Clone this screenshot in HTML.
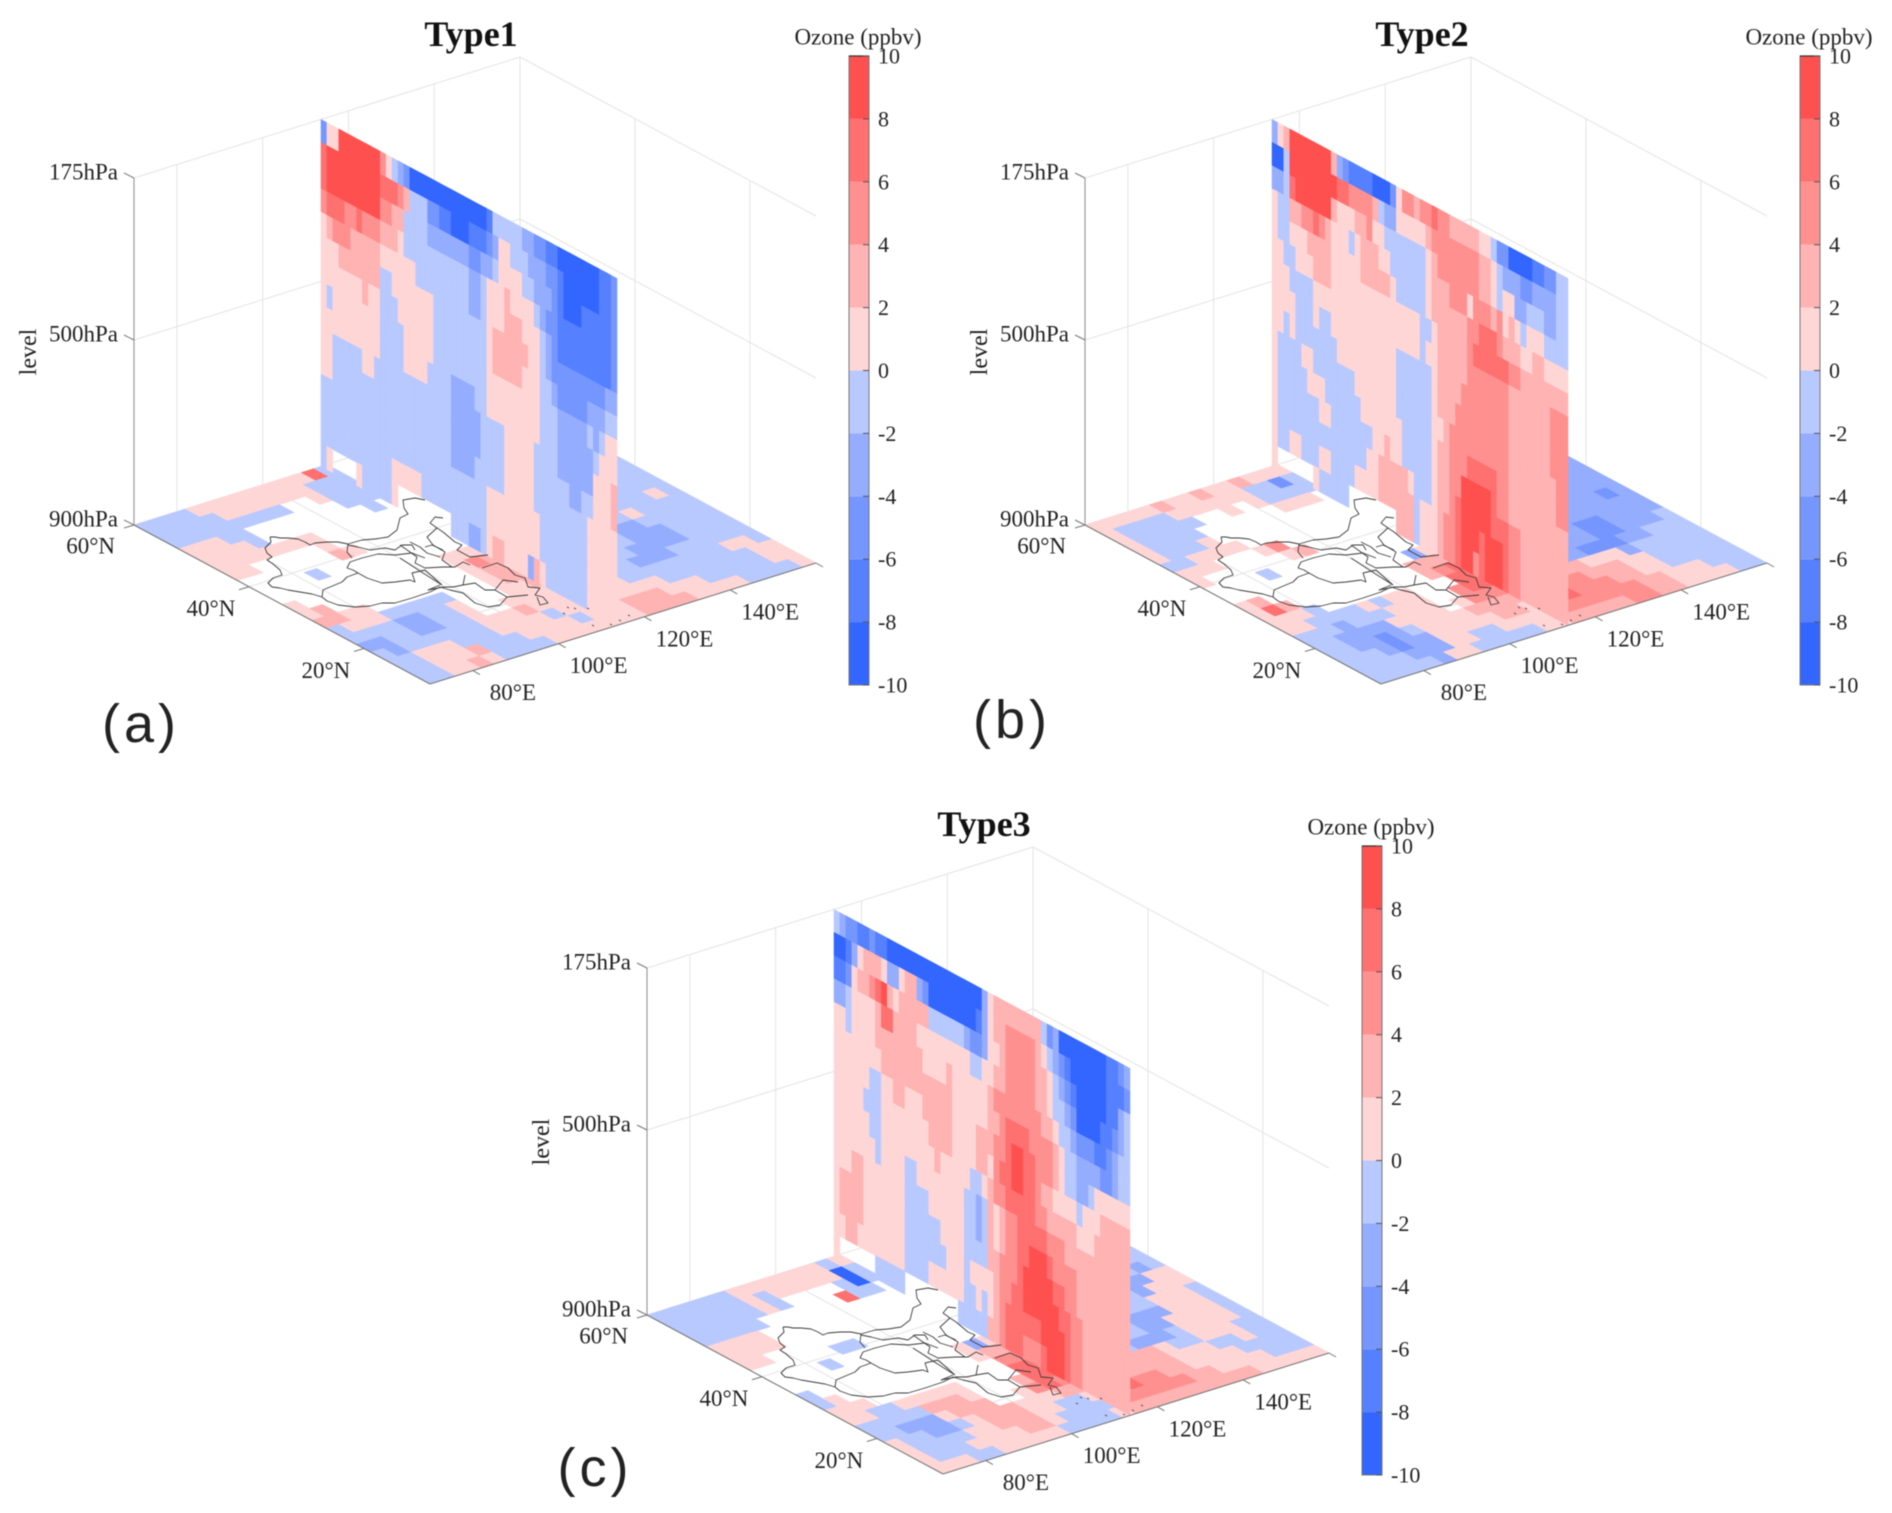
<!DOCTYPE html>
<html lang="en">
<head>
<meta charset="utf-8">
<title>Ozone anomaly cross-sections by type</title>
<style>
html,body{margin:0;padding:0;background:#fff;}
#chart{display:block;width:1892px;height:1513px;font-family:"Liberation Serif",serif;filter:blur(0.5px);}
</style>
</head>
<body>
<svg id="chart" xmlns="http://www.w3.org/2000/svg" width="1892" height="1513" viewBox="0 0 1892 1513"></svg>
<script>
// ---------- chart data ----------
const levelTicks = [175, 500, 900];
const latTicks = [60, 40, 20];
const lonTicks = [80, 100, 120, 140];
const colorbarTicks = [10, 8, 6, 4, 2, 0, -2, -4, -6, -8, -10];
const pressureEdges = [175, 221, 268, 314, 361, 407, 453, 500, 550, 600, 650, 700, 750, 800, 850, 900];
const palette = ['#3366ff', '#5580ff', '#7596ff', '#95adff', '#b8c9ff', '#ffd6d6', '#ffb3b3', '#ff9090', '#ff7070', '#ff5050'];

// Wall values: 15 pressure rows (top to bottom), 50 latitude columns (60N to south). 0 = no data.
const wallType1 = [
[-5,1,1,9,9,9,9,9,9,9,5,1,-1,-3,-5,-9,-9,-9,-9,-9,-9,-9,-9,-9,-9,-9,-9,-9,-7,-1,-1,-1,-1,-1,-3,-3,-5,-5,-7,-7,-9,-9,-9,-9,-9,-9,-9,-7,-7,-5],
[7,9,9,9,9,9,9,9,9,9,7,7,7,5,3,-1,-1,-1,-5,-5,-7,-7,-9,-9,-9,-7,-7,-7,-5,-3,1,1,-1,-1,-1,-3,-3,-3,-5,-5,-7,-9,-9,-9,-9,-9,-9,-7,-7,-5],
[7,9,9,9,9,9,9,9,9,9,5,5,3,3,-1,-1,-1,-1,-3,-3,-3,-3,-3,-3,-3,-5,-5,-3,-3,-1,1,1,1,1,-1,-1,-3,-3,-3,-5,-7,-9,-9,-9,-7,-7,-7,-7,-7,-5],
[5,7,7,7,5,5,7,5,5,5,3,3,3,1,-1,-1,-1,-1,-1,-1,-1,-1,-1,-1,-1,-3,-3,-1,1,1,1,3,1,1,1,1,-1,-3,-5,-5,-7,-7,-7,-7,-7,-7,-7,-7,-7,-5],
[1,3,5,5,5,3,3,3,3,3,1,1,1,1,1,1,-1,-1,-1,-1,-1,-1,-1,-1,-1,-3,-3,-1,1,1,1,3,3,3,1,1,1,-1,-3,-5,-7,-7,-7,-7,-7,-7,-7,-7,-7,-5],
[1,1,1,3,3,3,3,3,3,3,-1,-1,1,1,1,1,1,1,1,-1,-1,-1,-1,-1,-1,-1,-1,-1,1,3,3,3,3,3,3,1,1,-1,-3,-5,-5,-5,-5,-5,-5,-5,-5,-5,-3,-3],
[1,1,1,1,1,1,1,3,1,1,-1,-1,-1,1,1,1,1,1,1,-1,-1,-1,-1,-1,-1,-1,-1,-1,1,3,3,3,3,3,1,1,1,-1,-1,-3,-5,-5,-5,-5,-5,-3,-3,-3,-1,-1],
[1,-1,1,1,1,1,1,1,1,1,-1,-1,-1,-1,1,1,1,1,1,-1,-1,-1,-1,-1,-1,-1,-1,-1,1,1,1,1,1,1,1,1,1,-1,-1,-1,-3,-3,-3,-3,-3,-1,-3,-1,1,1],
[1,1,1,1,1,1,1,1,1,1,-1,-1,-1,-1,1,1,1,1,-1,-1,-1,-1,-3,-3,-3,-3,-1,-1,1,1,1,1,1,1,1,1,1,-1,-1,-1,-3,-3,-3,-3,-3,-3,-1,1,1,1],
[1,1,-1,-1,-1,-1,-1,1,1,-1,-1,-1,-1,-1,-1,-1,-1,-1,-1,-1,-1,-1,-3,-3,-3,-3,-3,-1,-1,-1,-1,1,1,1,1,1,-1,-1,-1,-1,-3,-3,-3,-3,-3,-3,1,1,1,3],
[1,1,-1,-1,-1,-1,-1,-1,-1,-1,-1,-1,-1,-1,-1,-1,-1,-1,-1,-1,-1,-1,-3,-3,-3,-3,-3,-1,-1,-1,-1,1,1,1,1,1,-1,-1,-1,-1,-1,-1,-3,-3,-1,-1,1,1,1,3],
[-1,-1,-1,-1,-1,-1,-1,-1,-1,-1,-1,-1,-1,-1,-1,-1,-1,-1,-1,-1,-1,-1,-3,-3,-3,-3,-1,-1,-1,-1,-1,1,1,1,1,1,-1,-1,-1,-1,-1,-1,-1,-1,-1,1,1,1,1,1],
[-1,-1,-1,-1,-1,-1,-1,-1,-1,-1,-1,-1,-1,-1,-1,-1,-1,-1,-1,-1,-1,-1,-1,-1,-1,-1,-1,-1,1,1,1,1,1,1,1,1,1,-1,-1,-1,-1,-1,-1,-1,-1,1,1,1,1,1],
[-1,-1,-1,-1,-1,-1,-1,-1,-1,-1,-1,-1,1,1,1,1,1,-1,-1,-1,-1,-1,-1,-1,-1,-1,-1,-1,1,1,1,1,1,1,1,1,1,-1,-1,-1,-1,-1,-1,-1,-1,1,1,1,1,1],
[-1,1,0,0,0,0,1,-1,-1,-1,-1,-1,1,0,0,0,0,0,0,0,0,0,-1,-1,-1,-3,-3,-1,1,3,3,1,1,1,1,-3,3,1,-1,-1,-1,-1,-1,-1,-1,1,1,1,1,1]
];
const wallType2 = [
[-3,1,3,9,9,9,9,9,9,9,3,-3,-5,-7,-7,-7,-7,-9,-9,-9,-5,1,5,5,3,5,5,7,5,5,3,3,3,3,3,1,1,-1,-5,-5,-9,-9,-9,-9,-7,-7,-5,-5,-1,-1],
[-9,-9,-1,9,9,9,9,9,9,9,9,7,7,5,5,5,5,3,-1,-3,-3,1,1,1,1,1,3,5,5,5,5,5,5,5,5,3,3,1,-1,-3,-3,-3,-5,-5,-3,-3,-3,-3,-1,-1],
[-3,-3,-1,7,9,9,9,9,9,9,3,1,1,1,3,3,5,1,1,-1,-1,-1,-1,-1,-1,-1,1,3,5,5,5,5,5,5,5,3,3,1,-1,1,1,-3,-3,-1,-1,-1,-3,-3,-1,-1],
[1,-1,-1,3,3,5,5,7,5,3,1,1,1,-1,1,3,3,3,1,1,-1,-1,-1,-1,-1,-1,1,3,3,3,5,5,5,1,5,5,5,3,5,1,3,1,-1,1,1,1,-1,-1,-1,-1],
[1,-1,-1,1,1,1,3,3,3,3,1,1,1,1,1,3,3,3,3,3,1,-1,-1,-1,-1,-1,1,3,3,3,3,3,3,5,5,7,7,7,5,3,3,3,1,1,3,3,1,1,1,1],
[1,1,-1,-1,1,1,1,3,3,3,1,1,1,1,1,1,1,1,1,1,1,1,1,1,1,-1,-1,1,3,3,3,3,3,5,7,7,7,7,7,7,5,5,3,3,3,3,3,3,3,3],
[1,1,1,-1,-1,-1,-1,1,1,1,1,1,1,1,1,1,1,1,1,1,1,1,1,1,1,-1,1,1,3,3,3,3,3,5,5,5,5,5,5,5,3,3,3,3,3,3,3,5,5,5],
[1,1,1,1,-1,-1,-1,1,-1,-1,1,1,1,1,1,1,1,1,1,1,1,-1,-1,-1,-1,-1,-1,1,3,3,3,3,5,5,5,5,5,5,5,5,3,3,3,3,3,3,3,5,5,5],
[1,1,-1,1,-1,-1,-1,-1,-1,-1,-1,1,1,1,1,1,1,1,1,1,1,-1,-1,-1,-1,-1,-1,1,3,3,3,5,5,5,5,5,5,5,5,5,3,3,3,3,3,3,3,5,5,5],
[1,-1,-1,-1,-1,1,1,-1,-1,-1,-1,-1,-1,-1,1,1,1,1,1,1,1,-1,-1,-1,-1,-1,-1,1,1,3,5,5,5,5,5,5,5,5,5,5,3,3,3,3,3,3,3,3,5,5],
[1,-1,-1,-1,-1,-1,1,1,1,-1,-1,-1,-1,-1,-1,1,1,1,1,1,1,1,-1,-1,-1,-1,-1,1,3,3,5,5,5,7,7,7,7,7,5,5,3,3,3,3,3,3,3,3,5,5],
[1,-1,-1,-1,-1,-1,-1,-1,1,1,-1,-1,-1,-1,-1,-1,-1,1,1,3,1,1,-1,-1,-1,-1,-1,1,3,3,5,5,9,9,9,9,9,7,5,5,3,3,3,3,3,3,3,3,3,3],
[1,-1,-1,-1,-1,-1,-1,-1,-1,-1,-1,-1,-1,-1,-1,-1,1,1,3,3,3,3,3,1,-1,-1,-1,1,3,3,5,7,9,9,9,9,9,7,7,7,5,5,3,3,3,3,3,3,3,3],
[1,-1,-1,1,1,-1,-1,-1,1,1,-1,-1,-1,-1,1,1,1,1,3,3,3,3,3,3,-1,1,1,1,3,5,5,7,9,9,9,7,9,9,9,7,5,5,3,3,3,3,3,3,3,3],
[1,0,0,0,0,0,0,1,-1,-1,-1,-1,-1,0,0,0,0,0,0,0,0,3,3,3,-1,1,1,1,3,5,5,7,9,9,5,7,9,9,9,7,5,5,3,3,3,3,3,3,3,3]
];
const wallType3 = [
[-1,-3,-5,-5,-7,-7,-5,-7,-7,-9,-9,-9,-9,-9,-9,-9,-9,-9,-9,-9,-9,-9,-9,-9,-9,-3,1,3,3,3,3,3,3,3,3,-1,-5,-3,-9,-9,-9,-9,-9,-9,-9,-9,-7,-7,-5,-3],
[-9,-9,-7,-3,1,3,3,3,1,-3,-3,1,3,3,-3,-5,-9,-9,-9,-9,-9,-9,-9,-9,-7,-3,1,3,3,5,5,5,5,5,3,1,-1,-3,-5,-7,-9,-9,-9,-9,-9,-9,-7,-7,-7,-5],
[-7,-7,-5,1,3,3,5,7,9,3,1,3,3,3,3,3,-1,-1,-1,-1,-1,-1,-3,-5,-5,-3,1,1,3,5,5,5,5,5,3,3,1,-1,-3,-5,-7,-9,-9,-9,-9,-9,-7,-7,-3,-1],
[-3,-3,-1,1,1,1,1,3,7,7,3,3,3,3,1,1,1,1,1,1,1,1,1,-1,-1,1,1,3,3,5,5,5,5,5,3,3,1,-1,-1,-3,-5,-9,-9,-9,-9,-7,-7,-5,-3,-1],
[1,1,-1,1,1,1,1,3,3,3,3,3,3,3,3,1,1,1,1,3,1,1,1,1,1,1,3,5,5,5,5,5,5,5,5,3,3,1,-1,-1,-3,-5,-5,-5,-7,-7,-5,-3,-1,-1],
[1,1,1,1,1,1,1,1,3,3,3,3,3,3,3,3,3,3,3,3,1,1,1,1,1,1,3,3,5,7,7,7,7,5,5,5,5,3,1,-1,-1,-3,-3,-3,-3,-5,-5,-3,-1,-1],
[1,1,1,1,1,1,-1,-1,1,1,3,3,1,1,1,3,3,3,3,3,1,1,1,1,3,3,3,5,5,7,9,9,7,7,5,5,5,3,1,-1,-1,-3,-3,-1,1,1,1,1,1,1],
[1,1,1,1,1,-1,-1,-1,1,1,1,1,1,1,1,1,3,3,3,3,1,1,1,1,3,3,1,5,7,7,9,9,7,7,5,3,3,1,1,1,1,-1,1,1,1,3,3,3,3,3],
[1,1,1,1,1,1,-1,-1,1,1,1,1,1,1,1,1,1,3,1,1,1,1,1,-1,-1,1,3,5,5,7,7,7,7,7,5,5,3,3,3,3,3,1,1,1,3,3,3,3,3,3],
[1,1,1,1,1,1,1,-1,1,1,1,1,-1,-1,1,1,1,1,1,1,1,1,-1,-1,-3,-1,3,1,3,5,5,7,7,7,7,7,5,5,5,3,3,3,3,3,3,3,3,3,3,3],
[1,1,1,3,3,1,1,1,1,1,1,1,-1,-1,-1,-1,1,1,1,1,1,1,-1,-1,-3,-1,3,1,3,5,5,7,7,9,9,9,7,5,5,5,5,3,3,3,3,3,3,3,3,3],
[1,3,3,3,3,1,1,1,1,1,1,1,-1,-1,-1,-1,-1,-1,1,1,1,1,-1,-1,-1,-1,3,3,5,5,5,7,9,9,9,9,9,7,7,5,5,3,3,3,3,3,3,3,3,3],
[1,3,3,3,3,1,1,1,1,1,1,1,-1,-1,-1,-1,-1,-1,-1,1,1,1,-1,1,1,1,1,3,5,5,7,7,9,9,9,9,9,9,7,7,5,5,3,3,3,3,3,3,3,3],
[1,1,3,3,1,1,1,1,1,1,1,1,-1,-1,-1,-1,1,1,1,1,1,1,-1,-1,1,-1,1,3,5,7,7,7,7,7,7,9,9,9,9,7,5,5,3,3,3,3,3,3,3,3],
[1,0,0,0,0,0,0,-1,-1,-1,-1,-1,0,0,0,0,0,0,0,0,0,-1,-1,-1,-1,-1,3,3,5,7,7,7,5,5,5,7,9,9,9,7,5,5,3,3,3,3,3,3,3,3]
];

// Floor values: 20 latitude rows (60N to south), 30 longitude columns (70E to 160E). 0 = no data.
const floorType1 = [
[-1,-1,-1,-1,1,1,1,1,1,1,1,1,1,7,-1,0,0,0,0,0,0,-1,-1,-1,-1,-1,-1,-1,-1,-1],
[-1,-1,-1,-1,-1,1,1,1,1,1,1,1,-1,-1,-1,0,0,0,0,0,0,-1,-1,-1,-1,-1,-1,-1,-1,-1],
[-1,-1,-1,-1,-1,-1,-1,-1,-1,0,0,1,-1,-1,-1,0,0,0,0,0,0,-1,-1,-1,-1,-1,-1,-1,-1,-1],
[1,1,1,-1,-1,0,0,0,0,0,0,0,-1,-1,-1,0,0,0,0,0,0,-1,-1,-1,-1,-1,-1,-1,-1,-1],
[1,1,1,1,-1,0,0,0,0,0,0,0,0,-1,0,0,0,0,0,0,0,-1,-1,-1,-1,-1,-1,-1,-1,-1],
[1,1,1,1,1,1,1,1,0,0,0,0,0,0,0,0,0,0,0,0,0,-1,-1,-1,-1,-1,-1,-1,-1,-1],
[1,1,0,0,0,0,0,1,0,0,0,0,0,0,0,0,0,0,0,0,0,-1,-1,-1,-1,-1,-1,-1,-1,-1],
[0,0,0,0,0,0,0,3,1,0,0,0,0,0,0,0,0,0,0,0,0,-1,-1,-1,-1,-1,-1,-1,-1,-1],
[0,0,0,0,-1,0,0,0,0,0,0,0,0,0,0,0,0,0,0,0,0,-1,-1,-1,-1,-1,-1,-1,-1,-1],
[0,0,0,0,0,0,0,0,0,0,0,0,0,0,0,0,0,0,0,0,0,-1,-1,-1,-1,-1,-1,-1,-1,-1],
[1,0,0,0,0,0,0,0,0,0,0,0,1,1,1,-1,-1,-1,-1,-1,-1,-1,-1,-1,-1,-1,-1,-1,1,-1],
[1,3,0,0,0,0,0,0,0,0,0,0,1,5,3,-1,-1,-1,-1,-1,-1,-1,-1,-1,-1,1,-1,-1,-1,-1],
[3,3,1,1,0,0,0,0,0,0,0,0,1,3,3,-1,-1,-1,-1,-1,-1,-1,-1,-3,-3,-1,-1,-1,-1,-1],
[-1,1,1,1,-1,-1,-1,-1,-1,0,0,0,1,3,3,-1,-1,-1,-1,-1,-1,-1,-1,-3,-3,-3,-1,-1,-1,-1],
[-1,-1,-1,-1,-3,-3,-1,-1,1,0,0,0,1,1,3,-1,-1,-1,-1,-1,-1,-1,-3,-3,-3,-3,-1,-1,-1,-1],
[-3,-3,-1,-1,-3,-3,-1,-1,1,0,0,1,1,1,1,-1,-1,-1,-1,-1,-1,-3,-3,-3,-1,-1,-1,-1,-1,-1],
[-1,-3,-1,-1,-1,-1,-1,-1,1,1,1,3,1,1,1,1,1,1,1,-1,-1,-1,-1,-1,-1,-1,-1,1,1,-1],
[-1,-1,1,1,1,-1,-1,-1,1,1,1,1,-1,1,1,1,1,1,1,1,1,-1,-1,-1,-1,-1,-1,-1,1,1],
[-1,-1,1,1,1,3,-1,-1,-1,1,1,1,1,-1,1,1,1,3,3,3,1,1,1,-1,-1,-1,-1,-1,1,1],
[-1,-1,1,1,3,1,-1,-1,-1,-1,1,1,1,1,1,1,1,3,3,3,3,1,1,1,1,-1,-1,-1,-1,1]
];
const floorType2 = [
[1,1,1,1,1,3,1,1,3,1,1,3,1,1,1,0,0,0,0,0,0,-3,-3,-3,-3,-3,-3,-3,-3,-3],
[1,-1,-1,-1,-1,1,1,1,1,1,1,-1,-1,-5,-1,0,0,0,0,0,0,-3,-3,-3,-3,-3,-3,-3,-3,-3],
[1,-1,-1,-1,-1,-1,0,0,1,0,1,-1,-1,-1,-1,0,0,0,0,0,0,-3,-3,-3,-3,-3,-3,-3,-3,-3],
[1,-1,-1,-1,-1,0,0,0,0,0,0,1,1,1,0,0,0,0,0,0,0,-3,-3,-3,-3,-3,-3,-3,-3,-3],
[1,-1,-1,-1,1,0,0,0,0,0,0,0,0,0,0,0,0,0,0,0,0,-3,-3,-3,-3,-3,-3,-3,-3,-3],
[-1,-1,1,1,1,1,0,0,0,0,0,0,0,0,0,0,0,0,0,0,0,-3,-3,-3,-3,-3,-3,-3,-3,-3],
[1,1,1,0,0,0,1,5,0,0,0,0,0,0,0,0,0,0,0,0,0,-3,-3,-3,-3,-3,-3,-3,-3,-3],
[1,0,0,0,0,0,0,1,3,0,0,0,0,0,0,0,0,0,0,0,0,-3,-3,-3,-3,-3,-3,-3,-3,-3],
[0,0,0,0,-1,0,0,0,0,0,0,0,0,0,0,0,0,0,0,0,0,-3,-3,-3,-3,-3,-3,-3,-3,-3],
[0,0,0,0,0,0,0,0,0,0,0,0,0,0,0,0,0,0,0,0,0,-3,-3,-3,-3,-3,-3,-3,-3,-3],
[1,3,0,0,0,0,0,0,0,0,0,0,0,-3,1,-3,-3,-3,-3,-3,-3,-3,-3,-3,-3,-3,-3,-3,-5,-3],
[1,7,3,0,0,0,0,0,0,0,0,0,3,3,3,-3,-3,-3,-3,-3,-3,-3,-3,-3,-3,-3,-3,-3,-3,-3],
[1,1,1,-1,0,0,0,0,0,0,0,0,3,5,7,-3,-3,-3,-3,-3,-3,-3,-3,-3,-5,-5,-3,-3,-3,-3],
[1,1,-1,-1,-1,-1,1,-1,1,1,0,0,0,7,7,-3,-3,-3,-3,-3,-3,-3,-3,-3,-5,-5,-3,-3,-3,-1],
[-1,-1,-1,-3,-1,-1,-1,1,1,1,0,0,5,7,7,-3,-3,-3,-3,-3,-3,-3,-5,-5,-5,-3,-3,-1,-1,-1],
[-1,-1,-3,-3,-3,-3,1,1,1,1,0,1,5,5,5,3,3,3,3,3,3,1,1,1,-3,-1,-1,-1,-1,-1],
[-1,-1,-3,-3,-5,-3,-1,1,1,1,1,3,3,3,3,5,5,5,5,5,3,3,3,1,1,-1,-1,-1,-1,-1],
[-1,-1,-1,-3,-5,-3,-3,1,1,1,1,1,3,3,1,5,5,7,5,5,5,3,3,1,1,-1,-1,-1,-1,-1],
[-1,-1,-1,-1,-3,-3,-3,1,1,-1,-1,1,1,1,1,5,5,5,5,5,5,5,3,3,1,1,1,-1,-1,-1],
[-1,-1,-1,-1,-1,-3,1,1,-1,-1,-1,-1,-1,1,1,3,3,3,3,3,5,5,3,3,1,1,1,1,-1,-1]
];
const floorType3 = [
[-1,-1,-1,-1,-1,-1,1,1,1,1,1,1,1,-1,1,0,0,0,0,0,0,-1,-1,-1,-1,-1,-1,-1,-1,-1],
[-1,-1,-1,-1,-1,-1,1,-1,1,1,1,1,1,-9,-1,0,0,0,0,0,0,-1,-1,-1,-1,-1,-1,-1,-1,-1],
[-1,-1,-1,-1,-1,-1,1,-1,0,0,0,0,-1,-9,-1,0,0,0,0,0,0,-1,-1,-1,-1,-1,-1,-1,-1,-1],
[-1,-1,-1,-1,-1,0,0,0,0,0,0,7,-1,-1,0,0,0,0,0,0,0,-1,-1,-1,-1,-1,-1,-1,-1,-1],
[1,1,1,1,0,0,0,0,0,0,0,0,0,0,0,0,0,0,0,0,0,-1,-1,-1,-1,-1,-1,-1,-1,-1],
[1,1,1,1,0,0,0,0,0,0,0,0,0,0,0,0,0,0,0,0,0,-1,-1,-1,-1,-1,-1,-1,-1,-1],
[1,1,0,0,0,0,0,0,0,0,0,0,0,0,0,0,0,0,0,0,0,-1,-1,-1,-1,-1,-1,-1,-1,-1],
[0,0,0,0,0,0,-1,-1,0,0,0,0,0,0,0,0,0,0,0,0,0,-1,-1,-1,-1,-1,-1,-1,-1,-1],
[0,0,0,0,-1,0,0,0,0,0,0,0,0,0,0,0,0,0,0,0,0,-1,-1,-1,-1,-1,-1,-1,-3,-1],
[0,0,0,0,0,0,0,0,0,0,0,0,0,0,0,0,0,0,0,0,0,-1,-1,-1,-1,-1,-3,-3,1,1],
[-1,0,0,0,0,0,0,0,0,0,0,0,1,-3,1,-1,-1,-1,-1,-1,-1,-1,-1,-1,-1,-1,-3,1,1,1],
[-1,1,0,0,0,0,0,0,0,0,0,0,1,3,3,-1,-1,-1,-1,-1,-1,-1,-1,-1,-1,-1,1,1,1,-1],
[1,1,1,0,0,0,0,0,0,0,0,0,0,5,5,-1,-1,-1,-1,-1,-1,-1,-1,-3,-3,-3,1,1,1,-1],
[1,1,-1,-1,1,1,1,1,1,0,0,0,0,7,7,-1,-1,-1,-1,-1,-1,-1,-1,-3,-3,1,1,1,1,-1],
[-1,-1,-1,-1,-1,3,3,3,1,0,0,0,3,7,7,-1,-1,-1,-1,-1,-1,-3,-3,-3,-1,1,1,1,1,-1],
[-1,-1,-3,-3,-3,1,3,3,3,0,0,1,5,7,5,3,3,3,3,3,3,3,1,-1,-1,1,1,1,-1,-1],
[1,-1,-1,-3,-3,-1,1,3,3,3,1,1,1,3,3,3,3,3,3,3,3,3,1,1,1,-1,-1,1,-1,-1],
[1,-1,-1,-1,-1,1,1,3,3,3,1,1,-1,-1,1,3,3,7,5,5,3,3,1,1,1,1,-1,-1,-1,-1],
[1,-1,-1,-1,1,1,1,1,3,3,1,-1,-1,-1,-1,5,5,5,5,5,5,3,3,1,1,1,1,-1,-1,-1],
[1,1,1,-1,-1,1,1,1,1,1,-1,-1,-1,-1,1,3,3,3,3,3,3,3,3,3,3,1,1,1,1,1]
];

// ---------- layout ----------
const NS = 'http://www.w3.org/2000/svg';
const svg = document.getElementById('chart');
const LON0 = 70, LON1 = 160, LAT0 = 60, LATSPAN = 51.5, WALL_LON = 113.6;

function lonToV(lon) { return (lon - LON0) / (LON1 - LON0); }
function latToU(lat) { return (LAT0 - lat) / LATSPAN; }
function pressureToH(p) {
  if (p <= 500) return 185 + (500 - p) * (162 / 325);
  return (900 - p) * (185 / 400);
}
function project(panel, lon, lat, p) {
  const v = lonToV(lon), u = latToU(lat);
  return [panel.ox + 134 + 386 * v + 296 * u, panel.oy + 525 - 121 * v + 159 * u - pressureToH(p)];
}
function colorFor(value) {
  if (value === 0) return null;
  const idx = Math.max(0, Math.min(9, Math.floor((value + 10) / 2)));
  return palette[idx];
}
function mk(tag, attrs, parent) {
  const el = document.createElementNS(NS, tag);
  for (const k in attrs) el.setAttribute(k, attrs[k]);
  (parent || svg).appendChild(el);
  return el;
}
function pts(list) { return list.map(function (q) { return q[0].toFixed(1) + ',' + q[1].toFixed(1); }).join(' '); }

function gridLine(g, a, b, color, width, name) {
  const ln = mk('line', { x1: a[0], y1: a[1], x2: b[0], y2: b[1], stroke: color, 'stroke-width': width }, g);
  
  
  return ln;
}
function label(g, x, y, str, size, anchor, name, extra) {
  const t = mk('text', { x: x, y: y, 'font-size': size, 'text-anchor': anchor, 'dominant-baseline': 'central', fill: '#222' }, g);
  t.textContent = str;
  
  
  if (extra) for (const k in extra) t.setAttribute(k, extra[k]);
  return t;
}

// China province outlines in panel-relative pixels (map decoration, not data)
const outlineShapes = [
  [[270,537],[275,537],[280,538],[288,538],[298,539],[305,542],[310,545],[315,543],[327,542],[338,542],[348,544],[362,540],[375,539],[388,537],[397,530],[400,518],[408,514],[404,508],[403,500],[415,498],[425,500]],
  [[270,537],[271,542],[265,548],[267,553],[272,557],[267,560],[273,564],[280,570],[282,575],[273,578],[268,583],[272,587],[280,588],[288,590],[300,592],[312,594],[322,597],[327,601],[338,605],[355,607],[370,606],[382,603],[395,603],[412,598],[430,592],[440,587],[450,590],[463,593],[475,603],[488,607],[500,605],[507,597]],
  [[322,597],[323,590],[330,587],[342,582],[347,577],[358,573],[367,578],[382,583],[395,582],[410,580],[415,582],[412,573],[425,570],[442,585]],
  [[347,568],[350,562],[362,558],[378,554],[395,555],[412,553],[425,558]],
  [[347,568],[353,570],[358,573]],
  [[348,544],[347,552],[352,558]],
  [[348,545],[358,547],[370,550],[385,548],[395,550],[402,545],[412,545],[415,550]],
  [[443,518],[435,517],[430,523],[437,528],[443,532],[455,542],[462,545],[457,550],[470,557],[488,555]],
  [[437,528],[427,537],[433,545],[445,552],[442,560],[452,567]],
  [[410,542],[420,547],[427,553],[440,557]],
  [[425,547],[432,545],[443,550]],
  [[400,545],[417,557],[415,563],[425,568],[443,567],[455,567],[463,562],[470,565]],
  [[482,568],[497,563],[508,568],[515,575],[525,578],[528,587],[540,588],[535,595],[543,597],[548,603],[540,605],[537,597]],
  [[465,575],[463,585],[475,583],[485,590],[495,590],[503,580],[518,582]],
  [[495,590],[507,597],[528,595]],
  [[440,585],[428,590],[443,587],[453,587],[463,585]],
  [[400,558],[423,573],[442,585]]
];
const islandMarks = [[567,607],[574,608],[587,608],[563,613],[592,625],[619,620],[628,615],[610,624]];

const panels = [
  { key: 'type1', title: 'Type1', tag: '(a)', wall: wallType1, floor: floorType1, ox: 0, oy: 0, tagX: 141, tagY: 724 },
  { key: 'type2', title: 'Type2', tag: '(b)', wall: wallType2, floor: floorType2, ox: 951, oy: 0, tagX: 1012, tagY: 720 },
  { key: 'type3', title: 'Type3', tag: '(c)', wall: wallType3, floor: floorType3, ox: 513, oy: 790, tagX: 595, tagY: 1468 }
];

function drawPanel(panel) {
  const g = mk('g', {});
  
  
  const GRID = '#e4e4e4';
  const P = function (lon, lat, p) { return project(panel, lon, lat, p); };
  const LATEND = LAT0 - LATSPAN;

  // box grid: back-left plane, back-right plane, floor
  lonTicks.forEach(function (lon) {
    gridLine(g, P(lon, LAT0, 900), P(lon, LAT0, 175), GRID, 1, 'grid-line-lon');
    gridLine(g, P(lon, LAT0, 900), P(lon, LATEND, 900), GRID, 1, 'floor-grid-lon');
  });
  latTicks.forEach(function (lat) {
    if (lat === LAT0) return;
    gridLine(g, P(LON1, lat, 900), P(LON1, lat, 175), GRID, 1, 'grid-line-lat');
    gridLine(g, P(LON0, lat, 900), P(LON1, lat, 900), GRID, 1, 'floor-grid-lat');
  });
  levelTicks.forEach(function (p) {
    gridLine(g, P(LON0, LAT0, p), P(LON1, LAT0, p), GRID, 1, 'grid-line-level');
    gridLine(g, P(LON1, LAT0, p), P(LON1, LATEND, p), GRID, 1, 'grid-line-level');
  });
  gridLine(g, P(LON1, LAT0, 900), P(LON1, LAT0, 175), GRID, 1, 'grid-line-back-corner');

  // floor heatmap
  const floorG = mk('g', {}, g);
  
  
  const nRows = panel.floor.length;
  panel.floor.forEach(function (row, r) {
    const nCols = row.length;
    row.forEach(function (val, c) {
      const col = colorFor(val);
      if (!col) return;
      const lonA = LON0 + (LON1 - LON0) * c / nCols, lonB = LON0 + (LON1 - LON0) * (c + 1) / nCols;
      const latA = LAT0 - LATSPAN * r / nRows, latB = LAT0 - LATSPAN * (r + 1) / nRows;
      const cell = mk('polygon', { points: pts([P(lonA, latA, 900), P(lonB, latA, 900), P(lonB, latB, 900), P(lonA, latB, 900)]), fill: col, stroke: col, 'stroke-width': 0.5 }, floorG);
      
      
    });
  });

  // vertical wall heatmap
  const wallG = mk('g', {}, g);
  
  
  panel.wall.forEach(function (row, r) {
    const nCols = row.length;
    row.forEach(function (val, c) {
      const col = colorFor(val);
      if (!col) return;
      const latA = LAT0 - LATSPAN * c / nCols, latB = LAT0 - LATSPAN * (c + 1) / nCols;
      const pA = pressureEdges[r], pB = pressureEdges[r + 1];
      const cell = mk('polygon', { points: pts([P(WALL_LON, latA, pA), P(WALL_LON, latB, pA), P(WALL_LON, latB, pB), P(WALL_LON, latA, pB)]), fill: col, stroke: col, 'stroke-width': 0.5 }, wallG);
      
      
    });
  });

  // province outlines
  const mapG = mk('g', { fill: 'none', stroke: '#3a3a3a', 'stroke-width': 0.9, 'stroke-linejoin': 'round' }, g);
  
  
  outlineShapes.forEach(function (shape) {
    mk('polyline', { points: pts(shape.map(function (q) { return [q[0] + panel.ox, q[1] + panel.oy]; })) }, mapG);
  });
  islandMarks.forEach(function (q) {
    mk('line', { x1: q[0] + panel.ox, y1: q[1] + panel.oy, x2: q[0] + panel.ox + 2, y2: q[1] + panel.oy + 1 }, mapG);
  });

  // axes
  gridLine(g, P(LON0, LAT0, 900), P(LON0, LAT0, 175), '#9a9a9a', 1.2, 'level-axis-line');
  gridLine(g, P(LON0, LAT0, 900), P(LON0, LATEND, 900), '#777', 1.1, 'latitude-axis-line');
  gridLine(g, P(LON0, LATEND, 900), P(LON1, LATEND, 900), '#777', 1.1, 'longitude-axis-line');

  levelTicks.forEach(function (p) {
    const q = P(LON0, LAT0, p);
    gridLine(g, q, [q[0] - 10, q[1] - 5], '#777', 1, 'level-tick');
    label(g, panel.ox + 118, q[1] - 6, p + 'hPa', 23, 'end', 'level-tick-label');
  });
  latTicks.forEach(function (lat) {
    const q = P(LON0, lat, 900);
    gridLine(g, q, [q[0] - 10, q[1] + 3], '#777', 1, 'latitude-tick');
    if (lat === LAT0) label(g, panel.ox + 115, q[1] + 21, lat + '°N', 23, 'end', 'latitude-tick-label');
    else label(g, q[0] - 38, q[1] + 22, lat + '°N', 23, 'middle', 'latitude-tick-label');
  });
  lonTicks.forEach(function (lon) {
    const q = P(lon, LATEND, 900);
    gridLine(g, q, [q[0] + 7, q[1] + 4], '#777', 1, 'longitude-tick');
    label(g, q[0] + 40, q[1] + 22, lon + '°E', 23, 'middle', 'longitude-tick-label');
  });
  const endTick = P(LON1, LATEND, 900);
  gridLine(g, endTick, [endTick[0] + 7, endTick[1] + 4], '#777', 1, 'longitude-end-tick');

  label(g, panel.ox + 29, panel.oy + 352, 'level', 24, 'middle', 'level-axis-title', { transform: 'rotate(-90 ' + (panel.ox + 29) + ' ' + (panel.oy + 352) + ')' });

  // title
  label(g, panel.ox + 471, panel.oy + 34, panel.title, 36, 'middle', 'chart-title-' + panel.key, { 'font-weight': 'bold', fill: '#111' });

  // colorbar
  const cb = mk('g', {}, g);
  
  
  const cbX = panel.ox + 849, cbW = 20;
  const cbY = function (v) { return panel.oy + 56 + (10 - v) * 31.45; };
  palette.forEach(function (c, i) {
    const low = -10 + 2 * i, high = low + 2;
    const seg = mk('rect', { x: cbX, y: cbY(high), width: cbW, height: cbY(low) - cbY(high), fill: c }, cb);
    
    
  });
  const frame = mk('rect', { x: cbX, y: cbY(10), width: cbW, height: cbY(-10) - cbY(10), fill: 'none', stroke: '#777', 'stroke-width': 1 }, cb);
  
  
  gridLine(cb, [cbX, cbY(10)], [cbX + cbW, cbY(10)], '#333', 1.2, 'colorbar-top-edge');
  colorbarTicks.forEach(function (v) {
    gridLine(cb, [cbX + cbW - 6, cbY(v)], [cbX + cbW, cbY(v)], '#555', 1, 'colorbar-tick');
    label(cb, cbX + 29, cbY(v), String(v), 22, 'start', 'colorbar-tick-label');
  });
  label(cb, panel.ox + 858, panel.oy + 37, 'Ozone (ppbv)', 23, 'middle', 'colorbar-title');

  // panel tag
  const tag = label(g, panel.tagX, panel.tagY, panel.tag, 54, 'middle', 'panel-label-' + panel.key, { 'font-family': '"Liberation Sans", sans-serif', fill: '#222' });
  tag.style.letterSpacing = '4px';
}

panels.forEach(drawPanel);
</script>
</body>
</html>
